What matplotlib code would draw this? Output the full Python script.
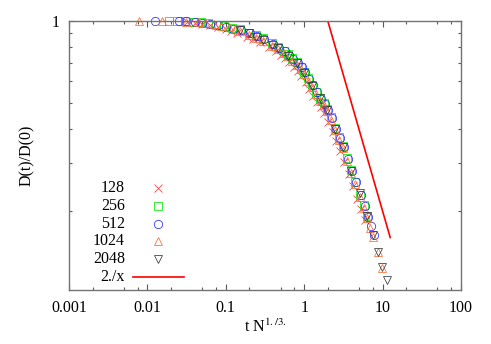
import numpy as np
import matplotlib as mpl
mpl.use("Agg")
import matplotlib.pyplot as plt
from matplotlib.ticker import LogLocator, FixedLocator, NullFormatter, FixedFormatter

plt.rcParams['font.family'] = ['Liberation Serif', 'DejaVu Serif']
plt.rcParams['mathtext.fontset'] = 'stix'

# data: x = t N^(1/3), y = D(t)/D(0)
x128 = [0.032, 0.04, 0.05, 0.063, 0.08, 0.1, 0.118,
        0.141, 0.184, 0.221, 0.276, 0.359, 0.432, 0.506, 0.57, 0.644, 0.736,
        0.828, 0.92, 1.04, 1.16, 1.31, 1.47, 1.64, 1.8, 2.02, 2.3,
        2.58, 2.85, 3.22, 3.68, 4.14, 4.78, 5.34, 5.89]
y128 = [0.99, 0.985, 0.976, 0.964, 0.951, 0.935, 0.92,
        0.902, 0.876, 0.856, 0.834, 0.8, 0.775, 0.751, 0.729, 0.704, 0.68,
        0.655, 0.629, 0.595, 0.564, 0.531, 0.502, 0.483, 0.458, 0.427, 0.39,
        0.361, 0.334, 0.302, 0.273, 0.248, 0.222, 0.203, 0.185]

x256 = [0.019, 0.024, 0.03, 0.038, 0.048, 0.06, 0.076, 0.095, 0.12,
        0.153, 0.2, 0.24, 0.3, 0.39, 0.47, 0.55, 0.62, 0.7, 0.8,
        0.9, 1.0, 1.13, 1.26, 1.42, 1.6, 1.78, 1.96, 2.2, 2.5,
        2.8, 3.1, 3.5, 4.0, 4.5, 5.2, 5.8, 6.4]
y256 = [1.0, 0.999, 0.997, 0.993, 0.988, 0.98, 0.97, 0.957, 0.942,
        0.934, 0.907, 0.887, 0.864, 0.828, 0.803, 0.778, 0.755, 0.729, 0.705,
        0.679, 0.651, 0.616, 0.584, 0.55, 0.52, 0.5, 0.475, 0.442, 0.404,
        0.374, 0.346, 0.313, 0.283, 0.257, 0.23, 0.21, 0.192]

x512 = [0.0125, 0.025, 0.031, 0.04, 0.05, 0.063, 0.08, 0.1, 0.125,
        0.158, 0.206, 0.247, 0.309, 0.402, 0.484, 0.567, 0.639, 0.721, 0.824,
        0.927, 1.03, 1.16, 1.3, 1.46, 1.65, 1.83, 2.02, 2.27, 2.58,
        2.88, 3.19, 3.61, 4.12, 4.64, 5.36, 5.97, 6.59, 7.21, 7.83]
y512 = [1.0, 1.0, 0.997, 0.993, 0.987, 0.978, 0.967, 0.953, 0.938,
        0.93, 0.902, 0.882, 0.859, 0.824, 0.799, 0.774, 0.752, 0.726, 0.701,
        0.675, 0.648, 0.613, 0.581, 0.548, 0.518, 0.497, 0.472, 0.44, 0.402,
        0.372, 0.345, 0.312, 0.281, 0.255, 0.229, 0.209, 0.191, 0.176, 0.164]

x1024 = [0.0079, 0.0155, 0.031, 0.044, 0.055, 0.07, 0.088, 0.11, 0.13,
         0.153, 0.2, 0.24, 0.3, 0.39, 0.47, 0.55, 0.62, 0.7, 0.8,
         0.9, 1.0, 1.13, 1.26, 1.42, 1.6, 1.78, 1.96, 2.2, 2.5,
         2.8, 3.1, 3.5, 4.0, 4.5, 5.2, 5.8, 6.4, 7.0, 7.6, 8.8, 9.9]
y1024 = [1.0, 1.0, 0.995, 0.99, 0.984, 0.974, 0.962, 0.948, 0.935,
         0.916, 0.889, 0.869, 0.846, 0.812, 0.787, 0.762, 0.741, 0.715, 0.691,
         0.665, 0.639, 0.604, 0.572, 0.54, 0.51, 0.49, 0.465, 0.434, 0.396,
         0.366, 0.34, 0.307, 0.277, 0.251, 0.226, 0.206, 0.188, 0.173, 0.161, 0.141, 0.124]

x2048 = [0.153, 0.2, 0.24, 0.3, 0.39, 0.47, 0.62, 0.8, 1.0, 1.26, 1.6, 1.96, 2.5, 3.1,
         4.0, 5.2, 6.4, 7.6, 8.8, 9.9, 11.4]
y2048 = [0.93, 0.9, 0.875, 0.852, 0.818, 0.795, 0.745, 0.698, 0.645, 0.578, 0.52, 0.47, 0.4, 0.343,
         0.28, 0.233, 0.192, 0.163, 0.142, 0.125, 0.112]

fit_x = np.array([1.0, 12.5])

labels = ['128', '256', '512', '1024', '2048', '2./x']

fig = plt.figure(figsize=(4.91, 3.44), dpi=100)
ax = fig.add_axes([69/491, 54/344, 392/491, 269/344])

ms = dict(fillstyle='none', linestyle='none', markeredgewidth=0.55)
series = [
    (x128, y128, 'x', '#ff3a3a', 5.5),
    (x256, y256, 's', '#00ee00', 5.8),
    (x512, y512, 'o', '#2a2aff', 6.0),
    (x1024, y1024, '^', '#ff6a2a', 6.0),
    (x2048, y2048, 'v', '#383838', 5.6),
]
for xs, ys, m, c, sz in series:
    ax.plot(xs, ys, marker=m, color=c, markersize=sz, clip_on=False, **ms)

ax.plot(fit_x, 2.0 / fit_x, color='#ff0000', lw=1.2)

ax.set_xscale('log')
ax.set_yscale('log')
ax.set_xlim(0.001, 100)
ax.set_ylim(0.1026, 1.0)

ax.xaxis.set_major_locator(FixedLocator([0.001, 0.01, 0.1, 1, 10, 100]))
ax.xaxis.set_major_formatter(FixedFormatter(['0.001', '0.01', '0.1', '1', '10', '100']))
ax.xaxis.set_minor_locator(LogLocator(base=10, subs=(2, 5, 7.5), numticks=10))
ax.xaxis.set_minor_formatter(NullFormatter())

ax.yaxis.set_major_locator(FixedLocator([1.0]))
ax.yaxis.set_major_formatter(FixedFormatter(['1']))
ax.yaxis.set_minor_locator(FixedLocator([0.2, 0.3, 0.4, 0.5, 0.6, 0.7, 0.8, 0.9]))
ax.yaxis.set_minor_formatter(NullFormatter())

ax.tick_params(which='both', direction='in', top=True, right=True, colors='0.35',
               labelcolor='black', labelsize=11.5, width=0.8)
ax.tick_params(which='major', length=4.5, pad=7)
ax.tick_params(which='minor', length=2.2)
for s in ax.spines.values():
    s.set_color('0.45')
    s.set_linewidth(1.0)

ax.set_xlabel(r't N$^{\mathrm{1./3.}}$', fontsize=11.5, labelpad=2)
ax.set_ylabel('D(t)/D(0)', fontsize=11.5, labelpad=12)

# gnuplot style key: labels right aligned, samples to the right
rows = [0.379, 0.313, 0.247, 0.181, 0.115, 0.049]
for i, lab in enumerate(labels):
    ax.text(0.143, rows[i], lab, transform=ax.transAxes, ha='right', va='center', fontsize=11.5)
    if i < len(series):
        _, _, m, c, sz = series[i]
        ax.plot([0.227], [rows[i]], marker=m, color=c, markersize=sz, transform=ax.transAxes, **ms)
    else:
        ax.plot([0.163, 0.293], [rows[i], rows[i]], color='#ff0000', lw=1.2, transform=ax.transAxes)

fig.savefig('out.png', dpi=100)
